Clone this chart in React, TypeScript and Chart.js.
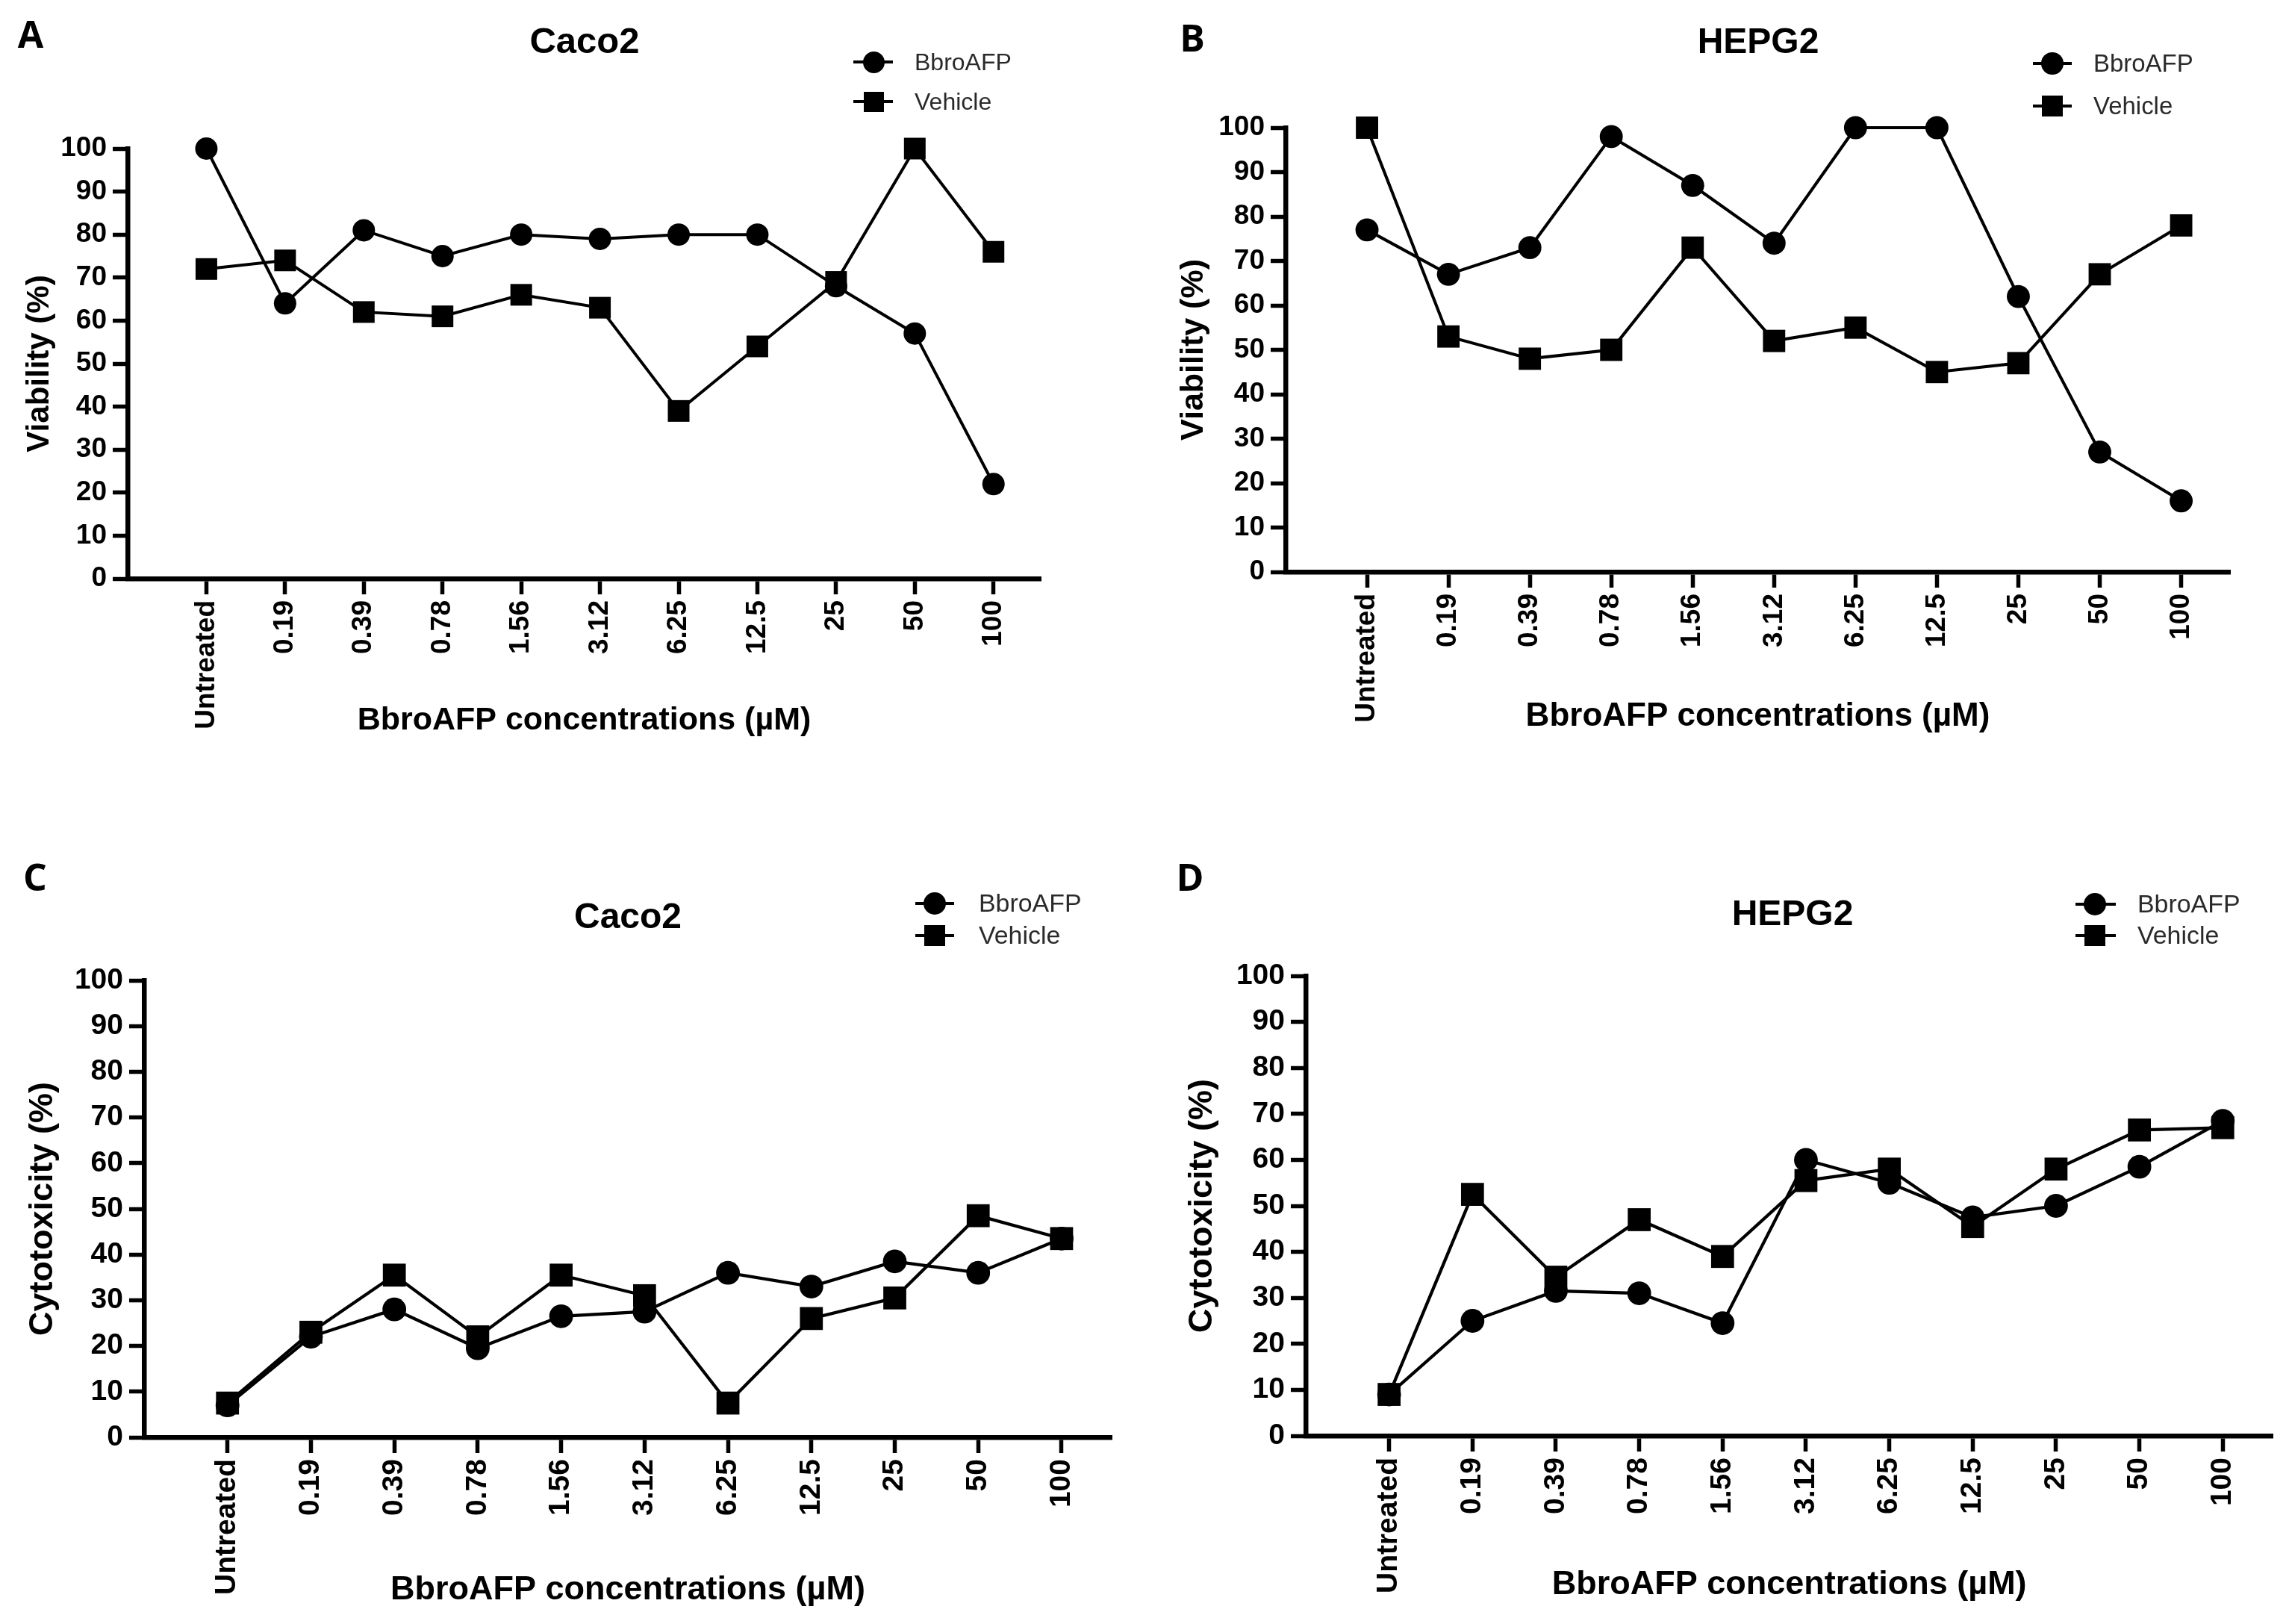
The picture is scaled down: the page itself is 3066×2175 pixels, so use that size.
import { useEffect, useRef } from 'react'
import { Chart, registerables } from 'chart.js'
Chart.register(...registerables)

// ---- data ----
const concentrations = ['Untreated', '0.19', '0.39', '0.78', '1.56', '3.12', '6.25', '12.5', '25', '50', '100']

const caco2ViabilityBbro = [100, 64, 81, 75, 80, 79, 80, 80, 68, 57, 22]
const caco2ViabilityVehicle = [72, 74, 62, 61, 66, 63, 39, 54, 69, 100, 76]

const hepg2ViabilityBbro = [77, 67, 73, 98, 87, 74, 100, 100, 62, 27, 16]
const hepg2ViabilityVehicle = [100, 53, 48, 50, 73, 52, 55, 45, 47, 67, 78]

const caco2CytoBbro = [7, 22, 28, 19.5, 26.5, 27.5, 36, 33, 38.5, 36, 43.5]
const caco2CytoVehicle = [7.5, 23, 35.5, 22, 35.5, 31, 7.5, 26, 30.5, 48.5, 43.5]

const hepg2CytoBbro = [9, 25, 31.5, 31, 24.5, 60, 55, 47.5, 50, 58.5, 68.5]
const hepg2CytoVehicle = [9, 52.5, 34.5, 47, 39, 55.5, 58, 45.5, 58, 66.5, 67]

const seriesNames = ['BbroAFP', 'Vehicle']
const xAxisTitle = 'BbroAFP concentrations (µM)'

const FONT = "'Liberation Sans', Arial, sans-serif"

interface Box { left: number; top: number; width: number; height: number }
interface Plot { left: number; right: number; top: number; bottom: number }
interface Legend { x1: number; x2: number; cx: number; y1: number; y2: number; tx: number }
interface PanelCfg {
    letter: string
    letterPos: [number, number]
    title: string
    titlePos: [number, number]
    yTitle: string
    bbro: number[]
    vehicle: number[]
    box: Box
    plot: Plot
    yTitleX: number
    xTitleY: number
    tickSize: number
    yTitleSize: number
    xTitleSize: number
    titleSize: number
    k: number
    legend: Legend
}

const panels: PanelCfg[] = [
    {
        letter: 'A', letterPos: [41, 45], title: 'Caco2', titlePos: [783, 54], yTitle: 'Viability (%)',
        bbro: caco2ViabilityBbro, vehicle: caco2ViabilityVehicle,
        box: { left: 0, top: 0, width: 1533, height: 1090 },
        plot: { left: 171, right: 1394, top: 199, bottom: 775 },
        yTitleX: 53, xTitleY: 965, tickSize: 37, yTitleSize: 42, xTitleSize: 43, titleSize: 49, k: 1,
        legend: { x1: 1143, x2: 1196, cx: 1170, y1: 83, y2: 136, tx: 1225 },
    },
    {
        letter: 'B', letterPos: [1597, 50], title: 'HEPG2', titlePos: [2355, 55], yTitle: 'Viability (%)',
        bbro: hepg2ViabilityBbro, vehicle: hepg2ViabilityVehicle,
        box: { left: 1533, top: 0, width: 1533, height: 1090 },
        plot: { left: 1722, right: 2987, top: 171, bottom: 766 },
        yTitleX: 1599, xTitleY: 960, tickSize: 37, yTitleSize: 43, xTitleSize: 44, titleSize: 48, k: 1.03,
        legend: { x1: 2723, x2: 2775, cx: 2749, y1: 85, y2: 142, tx: 2804 },
    },
    {
        letter: 'C', letterPos: [47, 1174], title: 'Caco2', titlePos: [841, 1227], yTitle: 'Cytotoxicity (%)',
        bbro: caco2CytoBbro, vehicle: caco2CytoVehicle,
        box: { left: 0, top: 1090, width: 1533, height: 1085 },
        plot: { left: 193, right: 1489, top: 1313, bottom: 1925 },
        yTitleX: 58, xTitleY: 2130, tickSize: 39, yTitleSize: 45, xTitleSize: 45, titleSize: 48, k: 1.06,
        legend: { x1: 1226, x2: 1278, cx: 1252, y1: 1210, y2: 1253, tx: 1311 },
    },
    {
        letter: 'D', letterPos: [1594, 1174], title: 'HEPG2', titlePos: [2401, 1223], yTitle: 'Cytotoxicity (%)',
        bbro: hepg2CytoBbro, vehicle: hepg2CytoVehicle,
        box: { left: 1533, top: 1090, width: 1533, height: 1085 },
        plot: { left: 1749, right: 3053, top: 1307, bottom: 1923 },
        yTitleX: 1611, xTitleY: 2123, tickSize: 39, yTitleSize: 45, xTitleSize: 45, titleSize: 48, k: 1.06,
        legend: { x1: 2780, x2: 2834, cx: 2806, y1: 1211, y2: 1253, tx: 2863 },
    },
]

function Panel({ cfg }: { cfg: PanelCfg }) {
    const canvasRef = useRef<HTMLCanvasElement>(null)
    const chartRef = useRef<Chart | null>(null)
    const { box, plot, k } = cfg

    useEffect(() => {
        if (!canvasRef.current) return
        const ctx = canvasRef.current.getContext('2d')!
        chartRef.current?.destroy()
        const xTitleLh = cfg.xTitleSize * 1.2
        const yTitleLh = cfg.yTitleSize * 1.2
        const tickFont = { family: FONT, size: cfg.tickSize, weight: 'bold' as const }
        const toPoints = (vals: number[]) => vals.map((v, i) => ({ x: i, y: v }))

        chartRef.current = new Chart(ctx, {
            type: 'line',
            data: {
                datasets: [
                    {
                        label: seriesNames[0],
                        data: toPoints(cfg.bbro),
                        borderColor: '#000',
                        borderWidth: 4 * k,
                        pointStyle: 'circle',
                        pointRadius: 15 * k,
                        pointBackgroundColor: '#000',
                        pointBorderWidth: 0,
                        tension: 0,
                        clip: false,
                        order: 1,
                    },
                    {
                        label: seriesNames[1],
                        data: toPoints(cfg.vehicle),
                        borderColor: '#000',
                        borderWidth: 4 * k,
                        pointStyle: 'rect',
                        pointRadius: 20.5 * k,
                        pointBackgroundColor: '#000',
                        pointBorderWidth: 0,
                        tension: 0,
                        clip: false,
                        order: 0,
                    },
                ],
            },
            options: {
                animation: false,
                responsive: false,
                events: [],
                layout: {
                    padding: {
                        left: 0,
                        top: plot.top - box.top,
                        right: box.left + box.width - plot.right,
                        bottom: 0,
                    },
                },
                plugins: {
                    legend: { display: false },
                    tooltip: { enabled: false },
                    title: { display: false },
                },
                scales: {
                    x: {
                        type: 'linear',
                        min: -1,
                        max: 10.6,
                        afterBuildTicks: (s: any) => { s.ticks = concentrations.map((_, i) => ({ value: i })) },
                        afterFit: (s: any) => { s.height = box.top + box.height - plot.bottom },
                        ticks: {
                            autoSkip: false,
                            minRotation: 90,
                            maxRotation: 90,
                            padding: 8,
                            color: '#000',
                            font: tickFont,
                            callback: (v: any) => concentrations[v] ?? '',
                        },
                        grid: { drawOnChartArea: false, drawTicks: true, tickLength: 21, tickWidth: 5.5, tickColor: '#000' },
                        border: { display: true, color: '#000', width: 6.5 },
                        title: {
                            display: true,
                            text: xAxisTitle,
                            color: '#000',
                            font: { family: FONT, size: cfg.xTitleSize, weight: 'bold' },
                            padding: { top: 0, bottom: box.top + box.height - cfg.xTitleY - xTitleLh / 2 },
                        },
                    },
                    y: {
                        type: 'linear',
                        min: 0,
                        max: 100,
                        afterFit: (s: any) => { s.width = plot.left - box.left },
                        ticks: { stepSize: 10, padding: 8, color: '#000', font: tickFont },
                        grid: { drawOnChartArea: false, drawTicks: true, tickLength: 20, tickWidth: 5.5, tickColor: '#000' },
                        border: { display: true, color: '#000', width: 6.5 },
                        title: {
                            display: true,
                            text: cfg.yTitle,
                            color: '#000',
                            font: { family: FONT, size: cfg.yTitleSize, weight: 'bold' },
                            padding: { top: cfg.yTitleX - box.left - yTitleLh / 2, bottom: 0 },
                        },
                    },
                },
            },
        })
        return () => chartRef.current?.destroy()
    }, [cfg])

    const rel = (x: number, y: number) => ({ left: x - box.left, top: y - box.top })
    const lg = cfg.legend
    const legendRow = (y: number, round: boolean, text: string) => {
        const m = (round ? 29 : 27) * k
        return (
            <>
                <div style={{ position: 'absolute', ...rel(lg.x1, y - 2), width: lg.x2 - lg.x1, height: 4, background: '#000' }} />
                <div style={{ position: 'absolute', ...rel(lg.cx - m / 2, y - m / 2), width: m, height: m, background: '#000', borderRadius: round ? '50%' : 0 }} />
                <div style={{ position: 'absolute', ...rel(lg.tx, y), transform: 'translateY(-50%)', fontFamily: FONT, fontSize: 32 * k, lineHeight: 1, color: '#2a2a2a', whiteSpace: 'nowrap' }}>{text}</div>
            </>
        )
    }

    return (
        <div style={{ position: 'absolute', left: box.left, top: box.top, width: box.width, height: box.height }}>
            <canvas ref={canvasRef} width={box.width} height={box.height} style={{ position: 'absolute', left: 0, top: 0, width: box.width, height: box.height }} />
            <div style={{ position: 'absolute', ...rel(cfg.letterPos[0], cfg.letterPos[1]), transform: 'translate(-50%, -50%)', fontFamily: "'Open Sans', sans-serif", fontWeight: 700, fontSize: 50, lineHeight: 1, color: '#000' }}>{cfg.letter}</div>
            <div style={{ position: 'absolute', ...rel(cfg.titlePos[0], cfg.titlePos[1]), transform: 'translate(-50%, -50%)', fontFamily: FONT, fontWeight: 'bold', fontSize: cfg.titleSize, lineHeight: 1, color: '#000', whiteSpace: 'nowrap' }}>{cfg.title}</div>
            {legendRow(lg.y1, true, seriesNames[0])}
            {legendRow(lg.y2, false, seriesNames[1])}
        </div>
    )
}

export default function App() {
    return (
        <div style={{ position: 'absolute', left: 0, top: 0, width: 3066, height: 2175, background: '#fff', overflow: 'hidden' }}>
            {panels.map(p => <Panel key={p.letter} cfg={p} />)}
        </div>
    )
}
